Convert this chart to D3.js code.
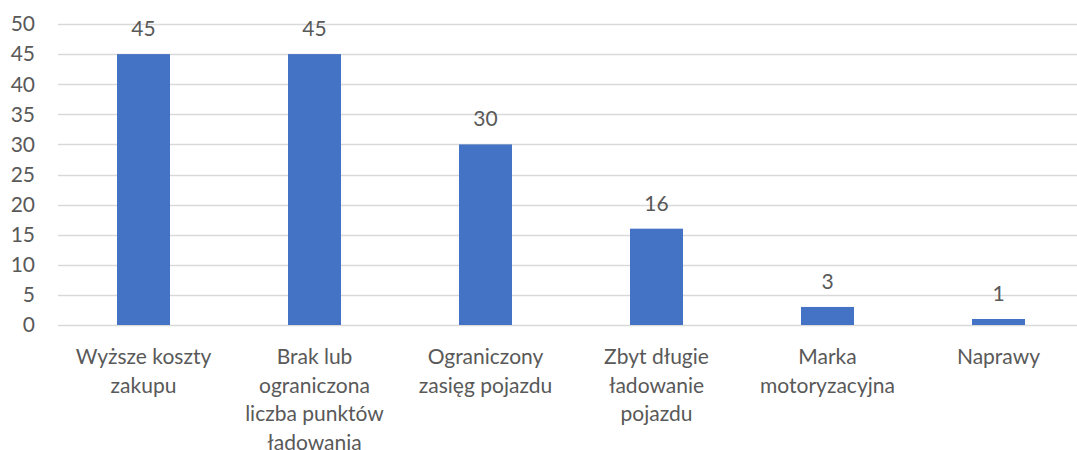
<!DOCTYPE html>
<html>
<head>
<meta charset="utf-8">
<script src="https://cdn.jsdelivr.net/npm/d3@7"></script>
<style>
  body { margin: 0; background: #fff; }
  text { font-family: Lato, "Open Sans", sans-serif; fill: #595959; }
</style>
</head>
<body>
<script>
// dane wykresu
var kategorie = [
  "Wyższe koszty\nzakupu",
  "Brak lub\nograniczona\nliczba punktów\nładowania",
  "Ograniczony\nzasięg pojazdu",
  "Zbyt długie\nładowanie\npojazdu",
  "Marka\nmotoryzacyjna",
  "Naprawy"
]
var wartosci = [45, 45, 30, 16, 3, 1]
var ticksY = [0, 5, 10, 15, 20, 25, 30, 35, 40, 45, 50]

var W = 1077, H = 450
var m = {left: 58, right: -7, top: 24, bottom: 125}

var svg = d3.select("body").append("svg")
    .attr("width", W)
    .attr("height", H)

var x = d3.scaleBand()
    .domain(kategorie)
    .range([m.left, W - m.right])
    .paddingInner(0.69)
    .paddingOuter(0.345)

var y = d3.scaleLinear()
    .domain([0, 50])
    .range([H - m.bottom, m.top])

// linie siatki
svg.append("g")
    .selectAll("line")
    .data(ticksY)
    .enter()
    .append("line")
    .attr("x1", m.left)
    .attr("x2", W - m.right)
    .attr("y1", d => Math.round(y(d)) + 0.5)
    .attr("y2", d => Math.round(y(d)) + 0.5)
    .style("stroke", "#d9d9d9")
    .style("stroke-width", 1.5)

// etykiety osi Y
svg.append("g")
    .selectAll("text")
    .data(ticksY)
    .enter()
    .append("text")
    .attr("x", 35)
    .attr("y", d => y(d))
    .attr("dy", "0.35em")
    .attr("text-anchor", "end")
    .style("font-size", "21px")
    .text(d => d)

// słupki
svg.append("g")
    .selectAll("rect")
    .data(wartosci)
    .enter()
    .append("rect")
    .attr("x", (d, i) => x(kategorie[i]))
    .attr("width", x.bandwidth())
    .attr("y", d => y(d))
    .attr("height", d => y(0) - y(d))
    .attr("fill", "#4472C4")

// etykiety danych
svg.append("g")
    .selectAll("text")
    .data(wartosci)
    .enter()
    .append("text")
    .attr("x", (d, i) => x(kategorie[i]) + x.bandwidth() / 2)
    .attr("y", d => y(d) - 18)
    .attr("text-anchor", "middle")
    .style("font-size", "21px")
    .text(d => d)

// etykiety kategorii
var kat = svg.append("g")
    .selectAll("text")
    .data(kategorie)
    .enter()
    .append("text")
    .attr("text-anchor", "middle")
    .style("font-size", "21px")

kat.selectAll("tspan")
    .data(d => d.split("\n").map(t => ({t: t, k: d})))
    .enter()
    .append("tspan")
    .attr("x", d => x(d.k) + x.bandwidth() / 2)
    .attr("y", (d, i) => 364 + i * 28.5)
    .text(d => d.t)
</script>
</body>
</html>
